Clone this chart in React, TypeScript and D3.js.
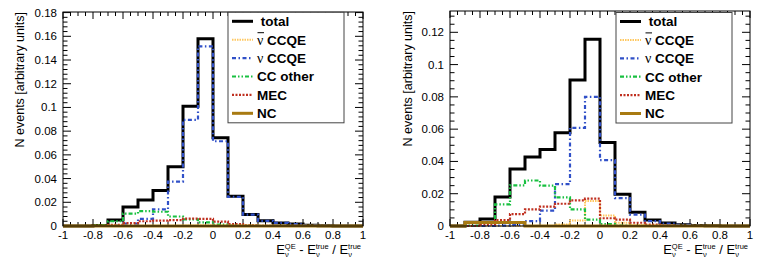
import React from "react";
import * as d3 from "d3";

// bin low edges, 20 bins of 0.1 from -1 to 1
const binEdges = d3.range(21).map((i) => Math.round((-1 + i * 0.1) * 10) / 10);

// left panel
const totalA = [0, 0, 0.0005, 0.005, 0.016, 0.022, 0.030, 0.050, 0.101, 0.158, 0.0745, 0.025, 0.0098, 0.0045, 0.0026, 0.0017, 0.0006, 0.0003, 0.0001, 0];
const antiNuA = [0, 0, 0, 0, 0, 0, 0, 0, 0.0002, 0.0004, 0.0002, 0.0001, 0, 0, 0, 0, 0, 0, 0, 0];
const nuCCQEA = [0, 0, 0, 0.0003, 0.002, 0.006, 0.014, 0.0375, 0.0895, 0.1515, 0.0715, 0.0245, 0.0096, 0.0043, 0.0026, 0.0017, 0.0006, 0.0003, 0.0001, 0];
const ccOtherA = [0, 0, 0.0005, 0.004, 0.0105, 0.0125, 0.012, 0.008, 0.0056, 0.003, 0.0012, 0.0003, 0.0001, 0, 0, 0, 0, 0, 0, 0];
const mecA = [0, 0, 0, 0.001, 0.0025, 0.004, 0.0045, 0.005, 0.0062, 0.006, 0.0037, 0.0015, 0.0005, 0.0002, 0, 0, 0, 0, 0, 0];
const ncA = [0, 0, 0, 0, 0, 0, 0, 0, 0, 0, 0, 0, 0, 0, 0, 0, 0, 0, 0, 0];

// right panel
const totalB = [0, 0.0023, 0.0043, 0.018, 0.0353, 0.0427, 0.0474, 0.0577, 0.0905, 0.1157, 0.0518, 0.0196, 0.0085, 0.0037, 0.0018, 0.0008, 0.0003, 0.0001, 0, 0];
const antiNuB = [0, 0, 0, 0, 0, 0, 0, 0.001, 0.0034, 0.0155, 0.0065, 0.002, 0.0005, 0.0001, 0, 0, 0, 0, 0, 0];
const nuCCQEB = [0, 0, 0, 0.0002, 0.0005, 0.003, 0.0095, 0.026, 0.0608, 0.080, 0.0408, 0.0173, 0.007, 0.003, 0.0015, 0.0007, 0.0002, 0, 0, 0];
const ccOtherB = [0, 0.0002, 0.002, 0.0134, 0.0252, 0.0282, 0.025, 0.0177, 0.0103, 0.004, 0.0012, 0.0003, 0, 0, 0, 0, 0, 0, 0, 0];
const mecB = [0, 0.0001, 0.001, 0.0037, 0.0074, 0.0103, 0.012, 0.0138, 0.0159, 0.0169, 0.0048, 0.004, 0.002, 0.0008, 0.0002, 0, 0, 0, 0, 0];
const ncB = [0, 0.0022, 0.0022, 0.0022, 0.0022, 0, 0, 0, 0, 0, 0, 0, 0, 0, 0, 0, 0, 0, 0, 0];

const legendLabels = [" total", "CCQE", "ν CCQE", "CC other", "MEC", "NC"];
const xTicks = [-1, -0.8, -0.6, -0.4, -0.2, 0, 0.2, 0.4, 0.6, 0.8, 1];
const yTicksA = [0, 0.02, 0.04, 0.06, 0.08, 0.1, 0.12, 0.14, 0.16, 0.18];
const yTicksB = [0, 0.02, 0.04, 0.06, 0.08, 0.1, 0.12];

const styles = [
  { color: "#000000", width: 3, dash: null },
  { color: "#ffc860", width: 2, dash: "1.5,1" },
  { color: "#3050c8", width: 2.2, dash: "4,2.5,1.5,2.5" },
  { color: "#18c040", width: 2.2, dash: "4,2,1.5,2,1.5,2" },
  { color: "#c03020", width: 2.2, dash: "2,1.5" },
  { color: "#a87a12", width: 3, dash: null },
];

const FONT = "Liberation Sans, Arial, Helvetica, sans-serif";
const fmt = (v) => String(Math.round(v * 100) / 100);

const Panel = ({ p }) => {
  const x = d3.scaleLinear().domain([-1, 1]).range([p.left, p.right]);
  const y = d3.scaleLinear().domain([0, p.yMax]).range([p.bottom, p.top]);
  const line = d3
    .line()
    .x((d) => x(d[0]))
    .y((d) => y(d[1]))
    .curve(d3.curveStepAfter);
  const pts = (vals) => [...vals.map((v, i) => [binEdges[i], v]), [1, vals[vals.length - 1]]];

  const xMinor = d3.range(0, 41).map((i) => -1 + i * 0.05);
  const nMinY = Math.floor(p.yMax / p.yMinor + 1e-6);
  const yMinor = d3.range(0, nMinY + 1).map((i) => i * p.yMinor);

  const lx0 = p.legX + 4;
  const lx1 = p.legX + 25;
  const tx = p.legX + 29;

  return (
    <g fontFamily={FONT}>
      {/* ticks, inside on all four sides */}
      <g stroke="#000" strokeWidth={1}>
        {xMinor.map((v, i) => {
          const len = i % 4 === 0 ? 7 : 4;
          return (
            <g key={"xm" + i}>
              <line x1={x(v)} x2={x(v)} y1={p.bottom} y2={p.bottom - len} />
              <line x1={x(v)} x2={x(v)} y1={p.top} y2={p.top + len} />
            </g>
          );
        })}
        {yMinor.map((v, i) => {
          const len = i % p.ySub === 0 ? 8 : 4.5;
          return (
            <g key={"ym" + i}>
              <line x1={p.left} x2={p.left + len} y1={y(v)} y2={y(v)} />
              <line x1={p.right} x2={p.right - len} y1={y(v)} y2={y(v)} />
            </g>
          );
        })}
      </g>

      {/* histograms */}
      {p.series.map((vals, i) => (
        <path
          key={"h" + i}
          d={line(pts(vals))}
          fill="none"
          stroke={styles[i].color}
          strokeWidth={styles[i].width}
          strokeDasharray={styles[i].dash || undefined}
        />
      ))}

      <rect x={p.left} y={p.top} width={p.right - p.left} height={p.bottom - p.top} fill="none" stroke="#000" strokeWidth={1} />

      {/* tick labels */}
      {xTicks.map((v) => (
        <text key={"xl" + v} x={x(v)} y={238.5} fontSize={11.5} textAnchor="middle">
          {fmt(v)}
        </text>
      ))}
      {p.yTicks.map((v) => (
        <text key={"yl" + v} x={p.left - 6} y={y(v)} dy="0.35em" fontSize={11.5} textAnchor="end">
          {fmt(v)}
        </text>
      ))}

      {/* axis titles */}
      <text x={p.right - 2} y={254} fontSize={13} textAnchor="end" style={{ whiteSpace: "pre" }}>
        <tspan>E</tspan>
        <tspan fontSize={7.5} dy={3}>ν</tspan>
        <tspan fontSize={7.5} dx={-3.9} dy={-8.5}>QE</tspan>
        <tspan dy={5.5}>{" - E"}</tspan>
        <tspan fontSize={7.5} dy={3}>ν</tspan>
        <tspan fontSize={7.5} dx={-3.9} dy={-8.5}>true</tspan>
        <tspan dy={5.5}>{" / E"}</tspan>
        <tspan fontSize={7.5} dy={3}>ν</tspan>
        <tspan fontSize={7.5} dx={-3.9} dy={-8.5}>true</tspan>
      </text>
      <text transform={`translate(${p.titleX},${p.top}) rotate(-90)`} fontSize={12.5} textAnchor="end">
        N events [arbitrary units]
      </text>

      {/* legend */}
      <rect x={p.legX} y={p.legY} width={116} height={110.5} fill="#fff" stroke="#444" strokeWidth={1} />
      {legendLabels.map((lab, i) => {
        const cy = p.legY + 9 + i * 18.4;
        return (
          <g key={"lg" + i}>
            <line
              x1={lx0}
              x2={lx1}
              y1={cy}
              y2={cy}
              stroke={styles[i].color}
              strokeWidth={styles[i].width}
              strokeDasharray={styles[i].dash || undefined}
            />
            {i === 1 ? (
              <g>
                <text x={tx} y={cy} dy="0.36em" fontSize={13.5} fontWeight="bold" style={{ whiteSpace: "pre" }}>
                  <tspan fontFamily="Liberation Serif, serif" fontWeight="normal" fontSize={14}>ν</tspan>
                  <tspan>{" " + lab}</tspan>
                </text>
                <line x1={tx + 0.5} x2={tx + 7} y1={cy - 7} y2={cy - 7} stroke="#000" strokeWidth={1} />
              </g>
            ) : i === 2 ? (
              <text x={tx} y={cy} dy="0.36em" fontSize={13.5} fontWeight="bold" style={{ whiteSpace: "pre" }}>
                <tspan fontFamily="Liberation Serif, serif" fontWeight="normal" fontSize={14}>ν</tspan>
                <tspan>{" CCQE"}</tspan>
              </text>
            ) : (
              <text x={tx} y={cy} dy="0.36em" fontSize={13.5} fontWeight="bold" style={{ whiteSpace: "pre" }}>
                {lab}
              </text>
            )}
          </g>
        );
      })}
    </g>
  );
};

const panelA = {
  left: 63, right: 363, top: 12, bottom: 226, yMax: 0.1805, yMinor: 0.004, ySub: 5,
  yTicks: yTicksA, titleX: 24, legX: 228, legY: 12.3,
  series: [totalA, antiNuA, nuCCQEA, ccOtherA, mecA, ncA],
};
const panelB = {
  left: 450, right: 750, top: 11, bottom: 226, yMax: 0.1332, yMinor: 0.005, ySub: 4,
  yTicks: yTicksB, titleX: 412, legX: 616, legY: 12.5,
  series: [totalB, antiNuB, nuCCQEB, ccOtherB, mecB, ncB],
};

const App = () => (
  <svg width={761} height={273} style={{ position: "absolute", left: 0, top: 0, background: "#fff" }}>
    <Panel p={panelA} />
    <Panel p={panelB} />
  </svg>
);

export default App;
